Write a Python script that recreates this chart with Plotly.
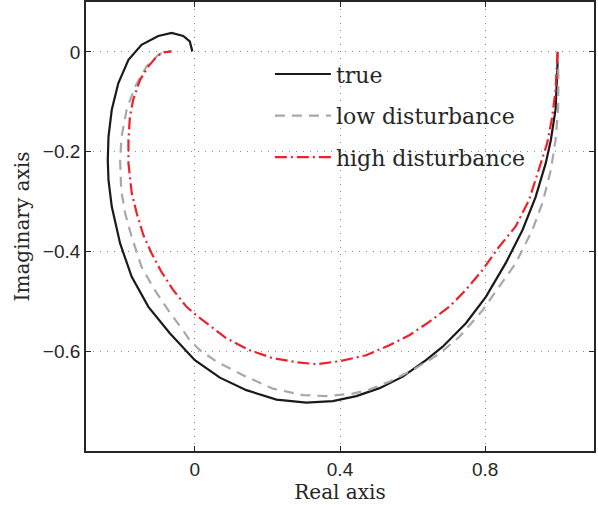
import plotly.graph_objects as go

# True curve
true_re = [1.000, 0.999, 0.994, 0.981, 0.967, 0.939, 0.903, 0.857, 0.802, 0.747, 0.683, 0.637,
           0.573, 0.509, 0.445, 0.380, 0.307, 0.225, 0.142, 0.069, 0.000, -0.069, -0.128, -0.174,
           -0.206, -0.229, -0.238, -0.240, -0.238, -0.229, -0.211, -0.183, -0.147, -0.101, -0.064,
           -0.032, -0.014, -0.007]
true_im = [0.000, -0.036, -0.116, -0.177, -0.223, -0.291, -0.357, -0.423, -0.491, -0.544, -0.591,
           -0.618, -0.651, -0.674, -0.690, -0.700, -0.703, -0.697, -0.678, -0.653, -0.618, -0.564,
           -0.511, -0.451, -0.384, -0.310, -0.257, -0.217, -0.170, -0.116, -0.063, -0.016, 0.014,
           0.032, 0.038, 0.032, 0.021, 0.001]

# Low disturbance curve
low_re = [1.000, 1.002, 1.001, 0.994, 0.981, 0.958, 0.930, 0.884, 0.838, 0.793, 0.729, 0.674,
          0.600, 0.536, 0.481, 0.435, 0.362, 0.298, 0.215, 0.133, 0.060, 0.014, -0.014, -0.027,
          -0.073, -0.110, -0.147, -0.174, -0.192, -0.203, -0.206, -0.202, -0.188, -0.165, -0.133,
          -0.101, -0.078, -0.066]
low_im = [0.000, -0.056, -0.116, -0.177, -0.237, -0.303, -0.357, -0.424, -0.471, -0.518, -0.571,
          -0.605, -0.638, -0.661, -0.677, -0.685, -0.690, -0.688, -0.675, -0.648, -0.621, -0.598,
          -0.578, -0.564, -0.518, -0.478, -0.431, -0.371, -0.324, -0.277, -0.217, -0.170, -0.116,
          -0.070, -0.029, -0.006, 0.003, 0.000]

# High disturbance curve
high_re = [1.000, 0.999, 0.994, 0.985, 0.971, 0.948, 0.921, 0.884, 0.838, 0.793, 0.747, 0.701,
           0.646, 0.591, 0.536, 0.472, 0.399, 0.335, 0.280, 0.215, 0.151, 0.087, 0.032, 0.009,
           -0.023, -0.060, -0.092, -0.119, -0.142, -0.160, -0.174, -0.183, -0.183, -0.179, -0.170,
           -0.151, -0.128, -0.105, -0.087, -0.064]
high_im = [0.000, -0.009, -0.076, -0.130, -0.183, -0.237, -0.297, -0.350, -0.391, -0.437, -0.477,
           -0.511, -0.541, -0.568, -0.588, -0.608, -0.620, -0.626, -0.622, -0.614, -0.598, -0.574,
           -0.544, -0.531, -0.511, -0.477, -0.441, -0.404, -0.367, -0.324, -0.283, -0.223, -0.177,
           -0.130, -0.096, -0.056, -0.029, -0.009, -0.001, 0.001]

x_ticks = [0, 0.4, 0.8]
x_ticklabels = ["0", "0.4", "0.8"]
y_ticks = [0, -0.2, -0.4, -0.6]
y_ticklabels = ["0", "\u22120.2", "\u22120.4", "\u22120.6"]

fig = go.Figure()
fig.add_trace(go.Scatter(x=true_re, y=true_im, mode="lines", name="true", legendgroup="a",
                         line=dict(color="#1a1a1a", width=2.2)))
fig.add_trace(go.Scatter(x=low_re, y=low_im, mode="lines", name="low disturbance", legendgroup="b",
                         line=dict(color="#a8a8a8", width=2.2, dash="10px,7px")))
fig.add_trace(go.Scatter(x=high_re, y=high_im, mode="lines", name="high disturbance", legendgroup="c",
                         line=dict(color="#f0202a", width=2.2, dash="12px,4px,2px,4px")))

axis_common = dict(
    showline=True, linecolor="#262626", linewidth=1.8, mirror="ticks",
    ticks="inside", ticklen=5, tickcolor="#262626", tickwidth=1,
    showgrid=True, gridcolor="#8a8a8a", griddash="1px,6px", gridwidth=1,
    zeroline=False, automargin=False,
    tickfont=dict(family="Liberation Sans, Arial", size=19, color="#262626"),
)

fig.update_layout(
    width=598, height=505,
    margin=dict(l=86, r=4, t=2, b=54),
    paper_bgcolor="white", plot_bgcolor="white",
    xaxis=dict(range=[-0.3, 1.1], tickvals=x_ticks, ticktext=x_ticklabels,
               title=dict(text="Real axis", standoff=4,
                          font=dict(family="DejaVu Serif", size=20, color="#262626")),
               **axis_common),
    yaxis=dict(range=[-0.8, 0.1], tickvals=y_ticks, ticktext=y_ticklabels,
               title=dict(text="Imaginary axis", standoff=8,
                          font=dict(family="DejaVu Serif", size=20, color="#262626")),
               **axis_common),
    showlegend=True,
    legend=dict(x=0.362, y=0.886, xanchor="left", yanchor="top", bgcolor="rgba(0,0,0,0)",
                borderwidth=0, tracegroupgap=10, itemwidth=56,
                font=dict(family="DejaVu Serif", size=22, color="#262626")),
)

fig.write_html("out.html", config={"displayModeBar": False},
               post_script="document.body.style.margin='0';document.body.style.padding='0';")
